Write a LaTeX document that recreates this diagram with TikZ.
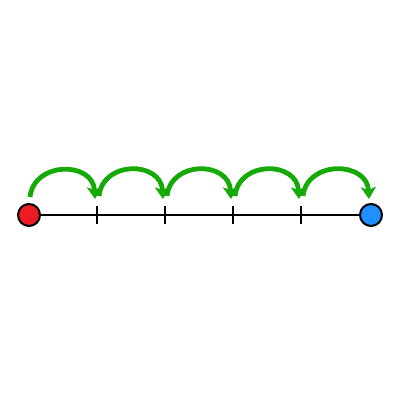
\documentclass[tikz,border=0pt]{standalone}
\usetikzlibrary{arrows.meta,calc}
\definecolor{jgreen}{RGB}{22,170,8}
\definecolor{dotred}{RGB}{235,28,36}
\definecolor{dotblue}{RGB}{30,144,255}
\begin{document}
\begin{tikzpicture}[x=1pt,y=-1pt,
  dot/.style={circle,draw=black,line width=2pt,minimum size=22pt,inner sep=0pt},
  tickmark/.style={line width=2.4pt},
  axisline/.style={line width=2.7pt},
  jump/.style={jgreen,line width=4.8pt,-{Stealth[length=12pt,width=15pt,inset=3pt]}}]
\useasboundingbox (0,0) rectangle (400,400);
\draw[axisline] (29,215) coordinate (sc) -- (371,215) coordinate (ec);
\node[dot,fill=dotred] (s) at (sc) {};
\node[dot,fill=dotblue] (e) at (ec) {};
\foreach \i/\x in {1/97,2/165,3/233,4/301}{
  \coordinate (t\i) at (\x,215);
  \draw[tickmark] (\x,206) -- (\x,224);
}
\coordinate (a0) at (30,197);
\coordinate (b1) at (95,199);
\coordinate (a1) at (99,196);
\coordinate (b2) at (163,199);
\coordinate (a2) at (167,196);
\coordinate (b3) at (231,199);
\coordinate (a3) at (235,196);
\coordinate (b4) at (299,199);
\coordinate (a4) at (303,196);
\coordinate (b5) at (369,199);
\foreach \a/\b in {a0/b1,a1/b2,a2/b3,a3/b4,a4/b5}{
  \draw[jump] (\a) .. controls ($(\a)+(4,-36)$) and ($(\b)+(-2,-38)$) .. (\b);
}
\end{tikzpicture}
\end{document}
